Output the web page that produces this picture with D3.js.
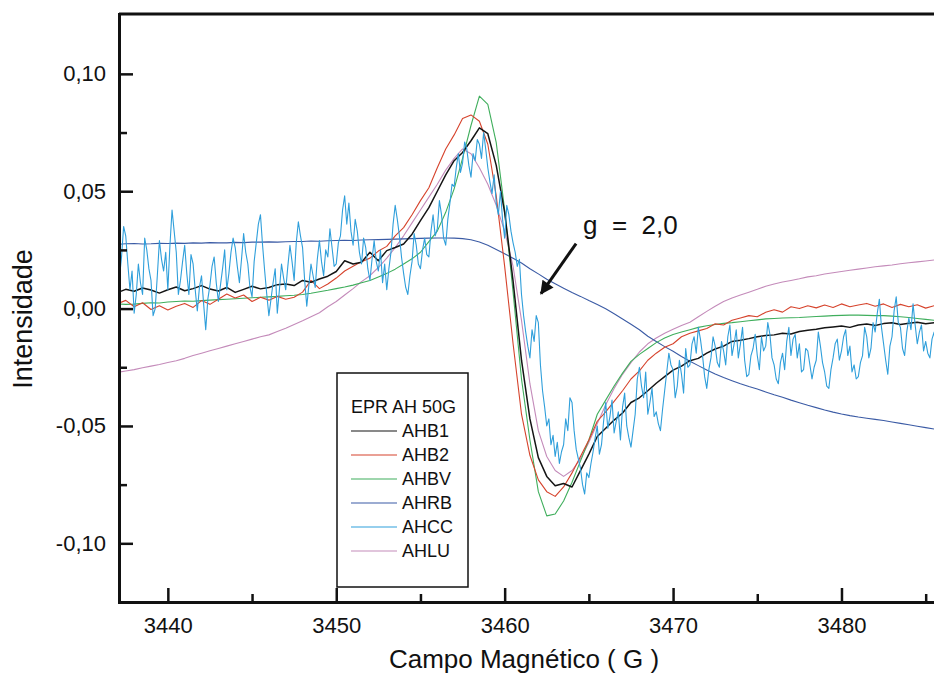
<!DOCTYPE html>
<html>
<head>
<meta charset="utf-8">
<script src="https://cdn.jsdelivr.net/npm/d3@7"></script>
<style>
  body { margin: 0; background: #fff; }
  text { font-family: "Liberation Sans", Arial, sans-serif; fill: #111; }
</style>
</head>
<body>
<svg id="chart" width="934" height="686"></svg>
<script>
// EPR spectra, field sweep 3437 - 3486 G
var campo   = d3.range(99).map(function(i) { return 3437 + i * 0.5; });    // sweep, 0.5 G
var campoCC = d3.range(393).map(function(i) { return 3437 + i * 0.125; }); // sweep, 0.125 G

var ahb1 = [
  .0068,.0082,.0074,.0088,.0079,.0066,.0080,.0092,.0076,.0085,
  .0098,.0083,.0075,.0090,.0069,.0082,.0095,.0084,.0090,.0102,
  .0105,.0098,.0120,.0112,.0126,.0138,.0158,.0204,.0190,.0197,
  .0240,.0204,.0247,.0260,.0275,.0317,.0375,.0430,.0500,.0570,
  .0630,.0665,.0715,.0770,.0745,.0610,.0410,.0117,-.0220,-.0470,
  -.0635,-.0715,-.0755,-.0745,-.0760,-.0690,-.0620,-.0545,-.0510,-.0475,
  -.0445,-.0400,-.0380,-.0350,-.0318,-.0290,-.0262,-.0245,-.0222,-.0212,
  -.0190,-.0172,-.0160,-.0140,-.0135,-.0128,-.0120,-.0115,-.0112,-.0105,
  -.0108,-.0098,-.0092,-.0088,-.0082,-.0078,-.0074,-.0080,-.0070,-.0066,
  -.0072,-.0064,-.0060,-.0068,-.0062,-.0058,-.0065,-.0060,-.0063
];
var ahb2 = [
  .0020,.0035,.0008,.0025,-.0004,.0012,-.0006,.0010,.0022,.0005,
  .0034,.0018,.0040,.0062,.0045,.0058,.0030,.0048,.0036,.0052,
  .0040,.0048,.0070,.0120,.0085,.0105,.0130,.0160,.0180,.0200,
  .0215,.0245,.0265,.0310,.0345,.0400,.0460,.0515,.0600,.0680,
  .0740,.0810,.0825,.0798,.0700,.0480,.0180,-.0150,-.0450,-.0625,
  -.0730,-.0780,-.0800,-.0760,-.0700,-.0630,-.0560,-.0480,-.0440,-.0395,
  -.0350,-.0300,-.0265,-.0220,-.0190,-.0165,-.0150,-.0120,-.0105,-.0095,
  -.0085,-.0065,-.0070,-.0050,-.0040,-.0030,-.0035,-.0016,-.0005,-.0015,
  .0008,.0000,.0012,.0003,.0015,.0005,.0020,.0008,.0015,.0022,
  .0010,.0020,.0005,.0018,.0008,.0016,.0002,.0012,.0006
];
var ahbv = [
  .0020,.0018,.0019,.0022,.0025,.0024,.0028,.0030,.0032,.0031,
  .0034,.0036,.0038,.0040,.0042,.0044,.0046,.0048,.0050,.0052,
  .0055,.0057,.0060,.0065,.0072,.0078,.0085,.0092,.0100,.0110,
  .0120,.0135,.0150,.0168,.0190,.0212,.0240,.0285,.0330,.0410,
  .0510,.0640,.0780,.0905,.0870,.0707,.0420,.0070,-.0300,-.0560,
  -.0780,-.0883,-.0875,-.0820,-.0740,-.0650,-.0560,-.0450,-.0390,-.0330,
  -.0275,-.0225,-.0195,-.0170,-.0145,-.0125,-.0110,-.0100,-.0090,-.0080,
  -.0073,-.0068,-.0063,-.0060,-.0056,-.0052,-.0048,-.0044,-.0042,-.0040,
  -.0039,-.0038,-.0036,-.0034,-.0032,-.0030,-.0029,-.0028,-.0028,-.0029,
  -.0030,-.0030,-.0032,-.0035,-.0038,-.0042,-.0046,-.0050,-.0053
];
var ahrb = [
  .0274,.0276,.0277,.0275,.0276,.0278,.0277,.0279,.0278,.0280,
  .0279,.0281,.0280,.0280,.0282,.0281,.0283,.0283,.0284,.0283,
  .0285,.0286,.0286,.0288,.0287,.0289,.0290,.0291,.0290,.0292,
  .0293,.0294,.0295,.0296,.0297,.0298,.0299,.0300,.0301,.0301,
  .0300,.0298,.0293,.0284,.0270,.0252,.0234,.0214,.0194,.0170,
  .0148,.0125,.0106,.0087,.0069,.0052,.0034,.0017,-.0001,-.0022,
  -.0044,-.0067,-.0090,-.0118,-.0140,-.0162,-.0182,-.0204,-.0224,-.0243,
  -.0262,-.0279,-.0294,-.0307,-.0320,-.0332,-.0343,-.0355,-.0367,-.0378,
  -.0390,-.0401,-.0412,-.0422,-.0432,-.0441,-.0449,-.0456,-.0462,-.0467,
  -.0472,-.0477,-.0483,-.0489,-.0495,-.0501,-.0507,-.0513,-.0518
];
// one row per gauss, 8 readings each
var ahcc = [
  .004,.013,.022,.035,.031,.019,.008,.016,
  -.002,.006,.019,.011,.006,.030,.025,.017,
  .012,-.003,.000,.014,.029,.021,.016,.024,
  .008,.027,.042,.033,.024,.006,.012,.020,
  .027,.015,.006,.023,.019,.008,-.001,.009,
  .014,.002,-.009,.004,.010,.018,.022,.011,
  .003,.010,.017,.025,.008,.015,.024,.030,
  .026,.018,.011,.021,.032,.024,.019,.009,
  .005,.020,.028,.036,.040,.027,.016,.006,
  -.003,.004,.011,.017,-.002,.008,.019,.013,
  .008,.018,.027,.020,.012,.028,.037,.031,
  .026,.012,.001,.010,.019,.014,.009,.021,
  .029,.020,.014,.025,.022,.034,.026,.018,
  .019,.028,.031,.042,.048,.036,.045,.033,
  .027,.038,.033,.024,.019,.030,.026,.017,
  .012,.021,.029,.020,.016,.025,.011,.019,
  .008,.017,.024,.036,.044,.038,.031,.022,
  .015,.009,.006,.014,.020,.032,.027,.019,
  .017,.025,.030,.023,.022,.033,.040,.031,
  .034,.046,.040,.030,.027,.038,.045,.053,
  .052,.060,.066,.058,.062,.071,.068,.061,
  .056,.066,.063,.072,.070,.064,.075,.068,
  .060,.054,.049,.057,.045,.040,.050,.038,
  .030,.044,.040,.033,.028,.024,.018,.021,
  .006,-.003,-.010,-.016,-.021,-.009,-.014,-.003,
  -.006,-.024,-.035,-.042,-.050,-.047,-.058,-.054,
  -.063,-.057,-.066,-.061,-.058,-.047,-.052,-.038,
  -.040,-.052,-.060,-.064,-.068,-.075,-.079,-.070,
  -.072,-.066,-.061,-.055,-.050,-.062,-.058,-.048,
  -.040,-.051,-.046,-.039,-.053,-.048,-.044,-.056,
  -.042,-.036,-.050,-.055,-.059,-.052,-.045,-.030,
  -.025,-.033,-.038,-.027,-.045,-.040,-.034,-.046,
  -.044,-.049,-.052,-.043,-.035,-.027,-.019,-.024,
  -.026,-.038,-.033,-.022,-.028,-.036,-.017,-.025,
  -.024,-.015,-.012,-.019,-.008,-.013,-.020,-.029,
  -.034,-.026,-.021,-.012,-.016,-.023,-.025,-.014,
  -.018,-.024,-.012,-.007,-.020,-.015,-.009,-.021,
  -.015,-.008,-.022,-.029,-.028,-.020,-.017,-.011,
  -.020,-.026,-.012,-.018,-.016,-.006,-.011,-.021,
  -.024,-.030,-.032,-.023,-.019,-.026,-.014,-.008,
  -.020,-.013,-.011,-.021,-.015,-.027,-.026,-.017,
  -.018,-.024,-.030,-.025,-.022,-.010,-.016,-.023,
  -.027,-.033,-.034,-.026,-.021,-.015,-.013,-.022,
  -.018,-.012,-.009,-.020,-.016,-.027,-.024,-.030,
  -.029,-.023,-.020,-.008,-.012,-.021,-.017,-.006,
  -.010,-.002,.004,-.008,-.015,-.022,-.028,-.016,
  -.012,-.001,.005,-.006,-.008,-.017,-.020,-.010,
  -.004,-.009,.002,-.007,-.015,-.010,-.007,-.018,
  -.014,-.019,-.021,-.013,-.010,-.020,-.024,-.018,
  -.026
];
var ahlu = [
  -.0272,-.0266,-.0260,-.0252,-.0245,-.0238,-.0230,-.0222,-.0212,-.0200,
  -.0190,-.0180,-.0170,-.0160,-.0150,-.0140,-.0130,-.0120,-.0112,-.0098,
  -.0084,-.0068,-.0052,-.0035,-.0018,.0008,.0030,.0058,.0085,.0115,
  .0140,.0175,.0215,.0260,.0310,.0365,.0420,.0475,.0530,.0590,
  .0640,.0680,.0660,.0600,.0530,.0440,.0330,.0180,-.0050,-.0320,
  -.0520,-.0630,-.0690,-.0715,-.0690,-.0640,-.0570,-.0490,-.0410,-.0340,
  -.0280,-.0230,-.0185,-.0150,-.0125,-.0105,-.0088,-.0072,-.0058,-.0035,
  -.0012,.0010,.0030,.0045,.0058,.0070,.0082,.0095,.0105,.0113,
  .0120,.0127,.0135,.0140,.0147,.0153,.0158,.0163,.0168,.0173,
  .0178,.0182,.0186,.0191,.0195,.0199,.0203,.0207,.0211
];

var seriesNames  = ["AHB1", "AHB2", "AHBV", "AHRB", "AHCC", "AHLU"];
var seriesColors = ["#151515", "#d6432c", "#3fae5c", "#3b5ba5", "#2f9fdb", "#c48bba"];
var seriesValues = [ahb1, ahb2, ahbv, ahrb, ahcc, ahlu];
var seriesFields = [campo, campo, campo, campo, campoCC, campo];

var xTicks = [3440, 3450, 3460, 3470, 3480];
var xMinor = [3445, 3455, 3465, 3475, 3485];
var yTicks = [-0.10, -0.05, 0, 0.05, 0.10];
var yTickLabels = ["-0,10", "-0,05", "0,00", "0,05", "0,10"];
var yMinor = [-0.075, -0.025, 0.025, 0.075];

var plotLeft = 119, plotRight = 940, plotTop = 14, plotBottom = 602;

var svg = d3.select("#chart");
svg.append("rect").attr("width", 934).attr("height", 686).attr("fill", "#fff");

var x = d3.scaleLinear().domain([3437.1, 3485.85]).range([plotLeft, plotRight]);
var y = d3.scaleLinear().domain([-0.125, 0.1255]).range([plotBottom, plotTop]);

svg.append("clipPath").attr("id", "plot-clip")
  .append("rect")
  .attr("x", plotLeft).attr("y", plotTop)
  .attr("width", plotRight - plotLeft).attr("height", plotBottom - plotTop);

var line = d3.line()
  .x(function(d) { return x(d[0]); })
  .y(function(d) { return y(d[1]); });

// draw order: pink, dark blue, green, red, black, then the noisy one on top
var order = [5, 3, 2, 1, 0, 4];
svg.append("g").attr("clip-path", "url(#plot-clip)")
  .selectAll("path")
  .data(order)
  .enter().append("path")
  .attr("fill", "none")
  .attr("stroke", function(i) { return seriesColors[i]; })
  .attr("stroke-width", function(i) { return i === 0 ? 1.5 : 1.1; })
  .attr("stroke-linejoin", "round")
  .attr("d", function(i) { return line(d3.zip(seriesFields[i], seriesValues[i])); });

// axes, ticks pointing inwards
svg.append("g").attr("transform", "translate(0," + plotBottom + ")")
  .call(d3.axisBottom(x).tickValues(xTicks).tickSize(-14).tickSizeOuter(0)
        .tickPadding(15).tickFormat(d3.format("d")));
svg.append("g").attr("transform", "translate(0," + plotBottom + ")")
  .call(d3.axisBottom(x).tickValues(xMinor).tickSize(-8).tickSizeOuter(0).tickFormat(""))
  .select(".domain").remove();

svg.append("g").attr("transform", "translate(" + plotLeft + ",0)")
  .call(d3.axisLeft(y).tickValues(yTicks).tickSize(-14).tickSizeOuter(0)
        .tickPadding(13).tickFormat(function(d, i) { return yTickLabels[i]; }));
svg.append("g").attr("transform", "translate(" + plotLeft + ",0)")
  .call(d3.axisLeft(y).tickValues(yMinor).tickSize(-8).tickSizeOuter(0).tickFormat(""))
  .select(".domain").remove();

svg.selectAll(".domain").attr("stroke", "#111").attr("stroke-width", 3).attr("stroke-linecap", "square");
svg.selectAll(".tick line").attr("stroke", "#111").attr("stroke-width", 2.5);
svg.selectAll(".tick text").attr("font-size", 22).attr("font-family", "Liberation Sans, Arial, sans-serif").attr("fill", "#111");

// top frame line
svg.append("line")
  .attr("x1", plotLeft).attr("x2", plotRight).attr("y1", plotTop).attr("y2", plotTop)
  .attr("stroke", "#111").attr("stroke-width", 3);

// axis titles
svg.append("text")
  .attr("x", 524).attr("y", 668)
  .attr("text-anchor", "middle").attr("font-size", 26)
  .text("Campo Magnético ( G )");
svg.append("text")
  .attr("transform", "translate(32,319) rotate(-90)")
  .attr("text-anchor", "middle").attr("font-size", 27)
  .text("Intensidade");

// legend
var lg = svg.append("g").attr("transform", "translate(337,373)");
lg.append("rect").attr("width", 131).attr("height", 214)
  .attr("fill", "#fff").attr("stroke", "#111").attr("stroke-width", 1.5);
lg.append("text").attr("x", 14).attr("y", 40).attr("font-size", 18).text("EPR AH 50G");
var items = lg.selectAll(".item").data(seriesNames).enter().append("g")
  .attr("class", "item")
  .attr("transform", function(d, i) { return "translate(0," + (64 + i * 24) + ")"; });
items.append("line")
  .attr("x1", 14).attr("x2", 60).attr("y1", -6).attr("y2", -6)
  .attr("stroke", function(d, i) { return seriesColors[i]; }).attr("stroke-width", 1.2);
items.append("text").attr("x", 65).attr("font-size", 18).text(function(d) { return d; });

// g = 2,0 annotation
var tip = [3462.16, 0.0064], tail = [3464.24, 0.0277];
svg.append("defs").append("marker")
  .attr("id", "head").attr("viewBox", "0 0 10 10")
  .attr("refX", 9).attr("refY", 5)
  .attr("markerWidth", 5).attr("markerHeight", 4.5)
  .attr("markerUnits", "strokeWidth").attr("orient", "auto")
  .append("path").attr("d", "M0,0L10,5L0,10Z").attr("fill", "#111");
svg.append("line")
  .attr("x1", x(tail[0])).attr("y1", y(tail[1]))
  .attr("x2", x(tip[0])).attr("y2", y(tip[1]))
  .attr("stroke", "#111").attr("stroke-width", 3)
  .attr("marker-end", "url(#head)");
svg.append("text")
  .attr("x", x(3464.65)).attr("y", y(0.0319))
  .attr("font-size", 26)
  .style("white-space", "pre")
  .text("g  =  2,0");
</script>
</body>
</html>
